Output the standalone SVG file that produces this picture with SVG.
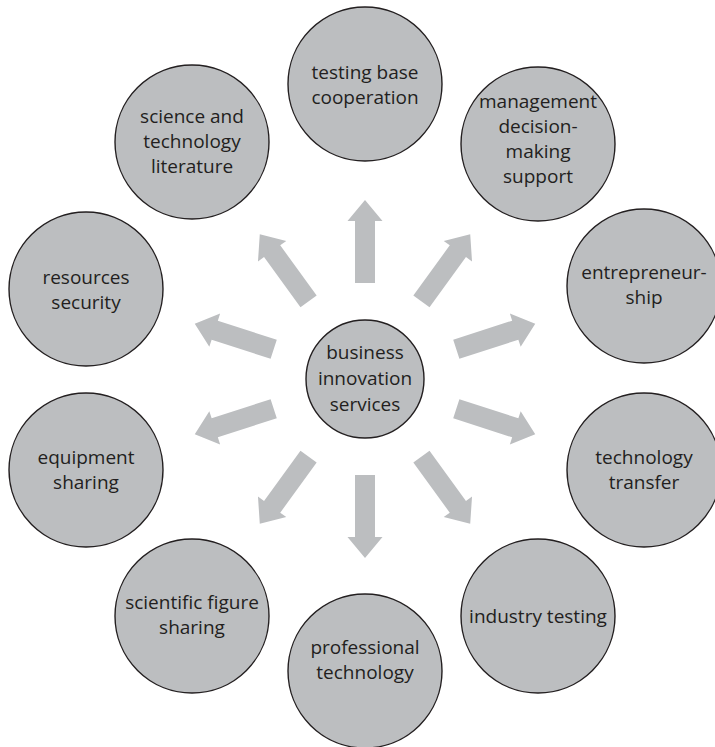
<svg xmlns="http://www.w3.org/2000/svg" width="715" height="747" viewBox="0 0 715 747">
  <style>
    .node circle { fill: #bcbec0; stroke: #231f20; stroke-width: 1.4; }
    .node text { font-family: "Open Sans", "Noto Sans", sans-serif; font-size: 19px; fill: #231f20; text-anchor: middle; }
    .arrow { fill: #bcbec0; }
  </style>
  <defs>
    <!-- block arrow pointing along +x, tail at origin -->
    <polygon id="blockArrow" class="arrow" points="0,-10 62,-10 62,-17.5 83,0 62,17.5 62,10 0,10"/>
  </defs>

  <!-- connectors: ten block arrows radiating from the hub every 36 degrees -->
  <g id="connectors">
    <use href="#blockArrow" transform="translate(365 379) rotate(-90) translate(96 0)"/>
    <use href="#blockArrow" transform="translate(365 379) rotate(-54) translate(96 0)"/>
    <use href="#blockArrow" transform="translate(365 379) rotate(-18) translate(96 0)"/>
    <use href="#blockArrow" transform="translate(365 379) rotate(18) translate(96 0)"/>
    <use href="#blockArrow" transform="translate(365 379) rotate(54) translate(96 0)"/>
    <use href="#blockArrow" transform="translate(365 379) rotate(90) translate(96 0)"/>
    <use href="#blockArrow" transform="translate(365 379) rotate(126) translate(96 0)"/>
    <use href="#blockArrow" transform="translate(365 379) rotate(162) translate(96 0)"/>
    <use href="#blockArrow" transform="translate(365 379) rotate(198) translate(96 0)"/>
    <use href="#blockArrow" transform="translate(365 379) rotate(234) translate(96 0)"/>
  </g>

  <g id="hub" class="node">
    <circle cx="365" cy="379" r="59"/>
    <text><tspan x="365" y="359">business</tspan><tspan x="365" y="385">innovation</tspan><tspan x="365" y="411">services</tspan></text>
  </g>

  <g id="testing-base" class="node">
    <circle cx="365" cy="84" r="77"/>
    <text><tspan x="365" y="79">testing base</tspan><tspan x="365" y="104">cooperation</tspan></text>
  </g>

  <g id="management" class="node">
    <circle cx="538" cy="144" r="77"/>
    <text><tspan x="538" y="108">management</tspan><tspan x="538" y="133">decision-</tspan><tspan x="538" y="158">making</tspan><tspan x="538" y="183">support</tspan></text>
  </g>

  <g id="entrepreneurship" class="node">
    <circle cx="644" cy="286" r="77"/>
    <text><tspan x="644" y="279">entrepreneur-</tspan><tspan x="644" y="304">ship</tspan></text>
  </g>

  <g id="technology-transfer" class="node">
    <circle cx="644" cy="470" r="77"/>
    <text><tspan x="644" y="464">technology</tspan><tspan x="644" y="489">transfer</tspan></text>
  </g>

  <g id="industry-testing" class="node">
    <circle cx="538" cy="616" r="77"/>
    <text><tspan x="538" y="623">industry testing</tspan></text>
  </g>

  <g id="professional-technology" class="node">
    <circle cx="365" cy="671" r="77"/>
    <text><tspan x="365" y="654">professional</tspan><tspan x="365" y="679">technology</tspan></text>
  </g>

  <g id="scientific-figure" class="node">
    <circle cx="192" cy="616" r="77"/>
    <text><tspan x="192" y="609">scientific figure</tspan><tspan x="192" y="634">sharing</tspan></text>
  </g>

  <g id="equipment-sharing" class="node">
    <circle cx="86" cy="470" r="77"/>
    <text><tspan x="86" y="464">equipment</tspan><tspan x="86" y="489">sharing</tspan></text>
  </g>

  <g id="resources-security" class="node">
    <circle cx="86" cy="289" r="77"/>
    <text><tspan x="86" y="284">resources</tspan><tspan x="86" y="309">security</tspan></text>
  </g>

  <g id="science-literature" class="node">
    <circle cx="192" cy="142" r="77"/>
    <text><tspan x="192" y="123">science and</tspan><tspan x="192" y="148">technology</tspan><tspan x="192" y="173">literature</tspan></text>
  </g>
</svg>
